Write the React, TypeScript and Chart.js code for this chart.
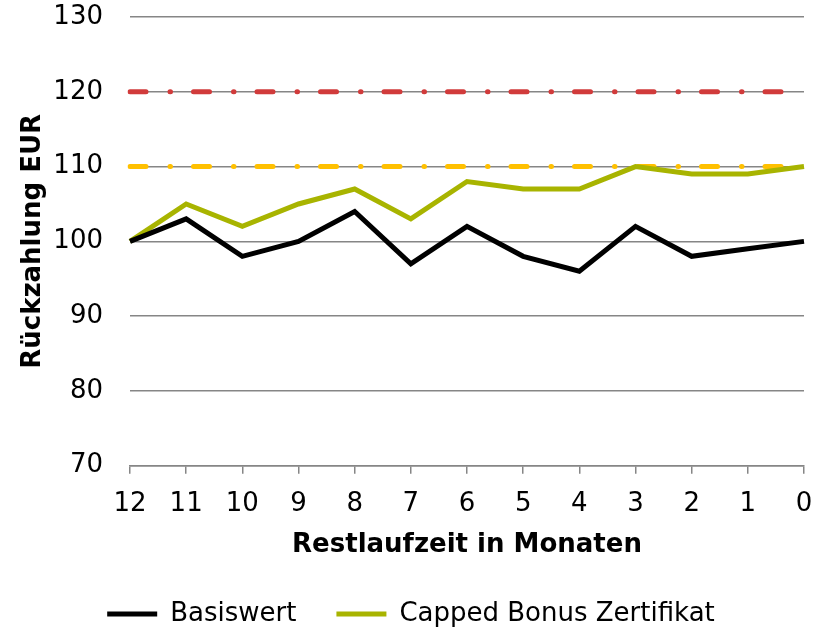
import React, { useEffect, useRef } from "react";
import { Chart, registerables } from "chart.js";
Chart.register(...registerables);

const categories = ["12", "11", "10", "9", "8", "7", "6", "5", "4", "3", "2", "1", "0"];
const basiswert = [100, 103, 98, 100, 104, 97, 102, 98, 96, 102, 98, 99, 100];
const cappedBonus = [100, 105, 102, 105, 107, 103, 108, 107, 107, 110, 109, 109, 110];
const capLevel = [120, 120, 120, 120, 120, 120, 120, 120, 120, 120, 120, 120, 120];
const bonusLevel = [110, 110, 110, 110, 110, 110, 110, 110, 110, 110, 110, 110, 110];
const yMin = 70;
const yMax = 130;
const yStep = 10;

const FONT = "'DejaVu Sans', Verdana, sans-serif";

export default function App() {
  const ref = useRef<HTMLCanvasElement | null>(null);
  useEffect(() => {
    if (!ref.current) return;
    const chart = new Chart(ref.current, {
      type: "line",
      data: {
        labels: categories,
        datasets: [
          {
            label: "Basiswert",
            data: basiswert,
            borderColor: "#000000",
            backgroundColor: "#000000",
            borderWidth: 5,
            pointRadius: 0,
            tension: 0,
          },
          {
            label: "Capped Bonus Zertifikat",
            data: cappedBonus,
            borderColor: "#a8b400",
            backgroundColor: "#a8b400",
            borderWidth: 5,
            pointRadius: 0,
            tension: 0,
          },
          {
            label: "Cap",
            data: capLevel,
            borderColor: "#d13b3b",
            backgroundColor: "#d13b3b",
            borderWidth: 5,
            borderDash: [16, 24, 0.5, 23],
            borderCapStyle: "round",
            pointRadius: 0,
          },
          {
            label: "Bonus",
            data: bonusLevel,
            borderColor: "#ffc000",
            backgroundColor: "#ffc000",
            borderWidth: 5,
            borderDash: [16, 24, 0.5, 23],
            borderCapStyle: "round",
            pointRadius: 0,
          },
        ],
      },
      options: {
        animation: false,
        responsive: false,
        layout: { padding: { left: 18, right: 19, top: 17, bottom: -9 } },
        plugins: {
          tooltip: { enabled: false },
          legend: {
            position: "bottom",
            labels: {
              color: "#000",
              font: { family: FONT, size: 26 },
              boxWidth: 50,
              boxHeight: 5,
              padding: 40,
              generateLabels: (c: any) =>
                Chart.defaults.plugins.legend.labels
                  .generateLabels(c)
                  .filter((l: any) => l.datasetIndex < 2)
                  .map((l: any) => ({ ...l, lineWidth: 0, fillStyle: l.strokeStyle })),
            },
          },
        },
        scales: {
          x: {
            offset: false,
            grid: {
              drawOnChartArea: false,
              drawTicks: true,
              tickLength: 8,
              color: "#868686",
              lineWidth: 1.5,
            },
            border: { display: true, color: "#868686", width: 1.5 },
            ticks: {
              color: "#000",
              font: { family: FONT, size: 26, lineHeight: 2.08 },
              padding: 3,
              maxRotation: 0,
              autoSkip: false,
            },
            title: {
              display: true,
              text: "Restlaufzeit in Monaten",
              color: "#000",
              font: { family: FONT, size: 26, weight: "bold" },
              padding: { top: -4, bottom: 0 },
            },
          },
          y: {
            min: yMin,
            max: yMax,
            afterFit: (scale: any) => {
              scale.width = 112;
            },
            grid: {
              drawTicks: true,
              tickLength: 27,
              tickColor: "rgba(0,0,0,0)",
              color: "#868686",
              lineWidth: 1.5,
            },
            border: { display: false },
            ticks: {
              stepSize: yStep,
              color: "#000",
              font: { family: FONT, size: 26 },
              padding: 0,
            },
            title: {
              display: true,
              text: "Rückzahlung EUR",
              color: "#000",
              font: { family: FONT, size: 26, weight: "bold" },
              padding: { top: 0, bottom: 4 },
            },
          },
        },
      },
    });
    return () => chart.destroy();
  }, []);
  return (
    <div style={{ position: "fixed", left: 0, top: 0, width: 823, height: 628, background: "#fff" }}>
      <canvas ref={ref} width={823} height={628} />
    </div>
  );
}
